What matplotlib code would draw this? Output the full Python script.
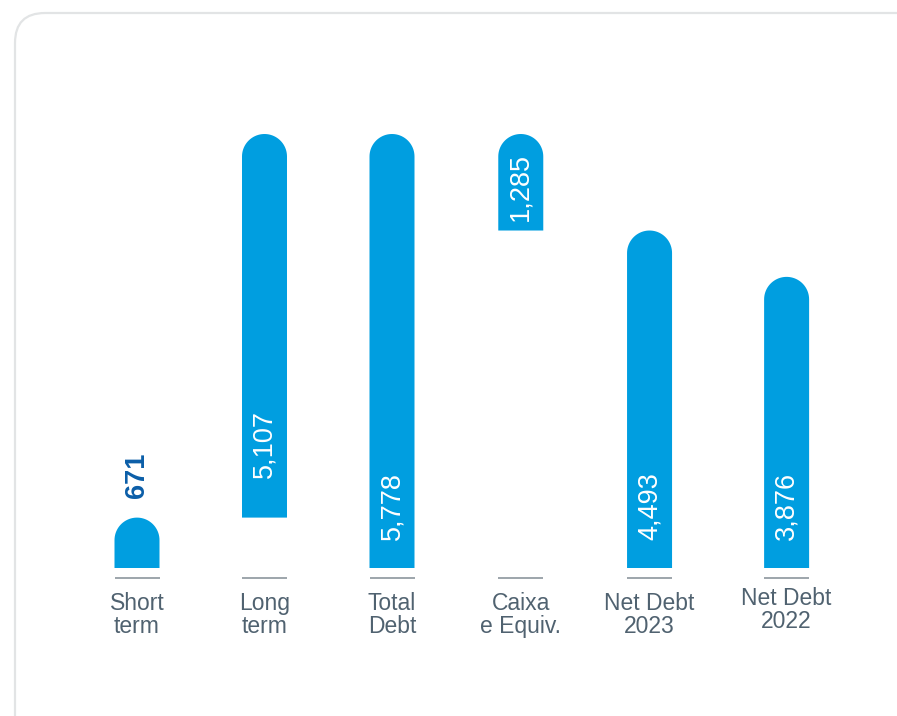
import matplotlib.pyplot as plt
import numpy as np
from matplotlib.patches import FancyBboxPatch, PathPatch
from matplotlib.path import Path
from matplotlib.transforms import IdentityTransform

plt.rcParams['font.family'] = ['Liberation Sans', 'DejaVu Sans']

# data
categories = ['Short\nterm', 'Long\nterm', 'Total\nDebt', 'Caixa\ne Equiv.', 'Net Debt\n2023', 'Net Debt\n2022']
values = [671, 5107, 5778, 1285, 4493, 3876]
value_labels = ['671', '5,107', '5,778', '1,285', '4,493', '3,876']
bottoms = [0, 671, 0, 4493, 0, 0]

BAR_COLOR = '#009ee0'
LABEL_COLOR = '#506270'
LINE_COLOR = '#8c969d'
DARK_BLUE = '#0b5ea8'

W, H = 897, 716
fig = plt.figure(figsize=(W / 100, H / 100), dpi=100)
fig.patch.set_facecolor('white')

# rounded card border (pixel coords)
card = FancyBboxPatch((15, -60), 920, 763, boxstyle='round,pad=0,rounding_size=30',
                      transform=IdentityTransform(), facecolor='none',
                      edgecolor='#e2e4e5', linewidth=1.6)
fig.patches.append(card)

ax = fig.add_axes([0, 0, 1, 1])
ax.set_facecolor('none')
ax.axis('off')

# pixel based layout
spacing_px = 127.5
first_px = 137
base_px = 568               # baseline, from top
px_per_unit = 434 / 5778
upp = 1 / px_per_unit       # units per pixel

xpos = np.array([0, 1, 2, 3.01, 4.02, 5.095])
label_shift = [0, 0, 0, 0, 0, 5]   # px, last label sits a bit higher

ax.set_xlim(-first_px / spacing_px, (W - first_px) / spacing_px)
ax.set_ylim(-(H - base_px) * upp, base_px * upp)

bar_w = 45 / spacing_px
r_px = 22.5


def rounded_bar(x, bottom, height):
    ry = r_px * upp
    rx = bar_w / 2
    top = bottom + height
    t = np.linspace(0, np.pi, 40)
    arc = [(x + rx * np.cos(a), top - ry + ry * np.sin(a)) for a in t]
    verts = [(x - rx, bottom), (x + rx, bottom)] + arc + [(x - rx, bottom)]
    codes = [Path.MOVETO] + [Path.LINETO] * (len(verts) - 2) + [Path.CLOSEPOLY]
    ax.add_patch(PathPatch(Path(verts, codes), facecolor=BAR_COLOR, edgecolor='none'))


for i, (x, v, b) in enumerate(zip(xpos, values, bottoms)):
    rounded_bar(x, b, v)
    # small baseline tick under each bar
    ax.hlines(-10 * upp, x - bar_w / 2, x + bar_w / 2, color=LINE_COLOR, linewidth=1.2)
    ax.text(x, (-47 + label_shift[i]) * upp, categories[i], ha='center', va='center',
            fontsize=16.5, color=LABEL_COLOR, linespacing=1.0)

# value labels
for i, (x, v, b) in enumerate(zip(xpos, values, bottoms)):
    if i == 0:
        ax.text(x, b + v + 20 * upp, value_labels[i], rotation=90, ha='center', va='bottom',
                fontsize=19.5, color=DARK_BLUE, fontweight='bold')
    elif i == 3:
        ax.text(x, b + v / 2 - 5 * upp, value_labels[i], rotation=90, ha='center', va='center',
                fontsize=19.5, color='white')
    else:
        pad = 40 if i == 1 else 28
        ax.text(x, b + pad * upp, value_labels[i], rotation=90, ha='center', va='bottom',
                fontsize=19.5, color='white')

plt.savefig('out.png', dpi=100)
plt.close()
